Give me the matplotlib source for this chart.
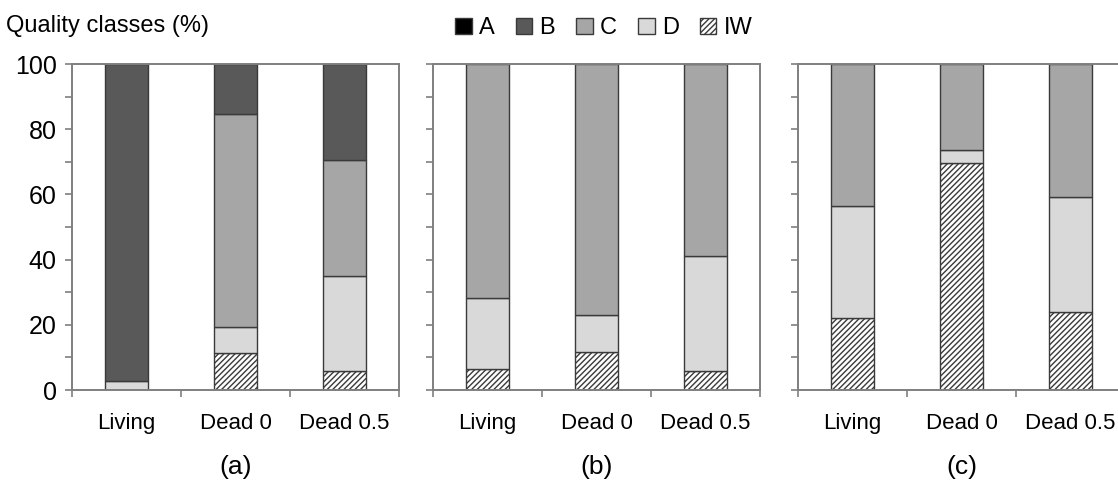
import numpy as np
import matplotlib
matplotlib.use("Agg")
import matplotlib.pyplot as plt
from matplotlib.patches import Patch

plt.rcParams['font.family'] = ['Liberation Sans', 'DejaVu Sans']
plt.rcParams['hatch.linewidth'] = 1.0

# data (percent per quality class)
categories = ["Living", "Dead 0", "Dead 0.5"]
classes = ["A", "B", "C", "D", "IW"]
panels = ["(a)", "(b)", "(c)"]

# stacking order from bottom: IW, D, C, B, A
iw_vals = [[0.0, 11.5, 5.8], [6.3, 11.7, 5.9], [22.2, 69.5, 23.8]]
d_vals = [[2.8, 7.7, 29.3], [21.8, 11.3, 35.2], [34.3, 4.0, 35.4]]
c_vals = [[0.0, 65.5, 35.5], [71.9, 77.0, 58.9], [43.5, 26.5, 40.8]]
b_vals = [[97.2, 15.3, 29.4], [0.0, 0.0, 0.0], [0.0, 0.0, 0.0]]
a_vals = [[0.0, 0.0, 0.0], [0.0, 0.0, 0.0], [0.0, 0.0, 0.0]]

colors = {"A": "#000000", "B": "#595959", "C": "#a6a6a6", "D": "#d9d9d9", "IW": "#ffffff"}
edge = "#3a3a3a"
spine_col = "#7f7f7f"

fig = plt.figure(figsize=(11.18, 4.92), dpi=100)

lefts = [0.0644, 0.3873, 0.7138]
w, h, b = 0.2925, 0.6626, 0.2073

x = np.arange(len(categories))
for k, left in enumerate(lefts):
    ax = fig.add_axes([left, b, w, h])
    bottom = np.zeros(3)
    for name, vals in [("IW", iw_vals), ("D", d_vals), ("C", c_vals), ("B", b_vals), ("A", a_vals)]:
        v = np.array(vals[k])
        mask = v > 0
        ax.bar(x[mask], v[mask], width=0.4, bottom=bottom[mask], color=colors[name],
               edgecolor=edge, linewidth=1.0, hatch="//////" if name == "IW" else None,
               zorder=2)
        bottom += v
    ax.set_xlim(-0.5, 2.5)
    ax.set_ylim(0, 100)
    ax.set_yticks(np.arange(0, 101, 20))
    ax.set_yticks(np.arange(0, 101, 10), minor=True)
    ax.set_xticks([-0.5, 0.5, 1.5, 2.5])
    ax.set_xticklabels([])
    ax.tick_params(axis="both", which="both", direction="out", length=5, width=1.2,
                   color=spine_col)
    ax.tick_params(axis="y", labelsize=18, pad=6)
    if k > 0:
        ax.set_yticklabels([])
    for s in ax.spines.values():
        s.set_color(spine_col)
        s.set_linewidth(1.4)
    for i, c in enumerate(categories):
        ax.text(i, -10.3, c, ha="center", va="center", fontsize=16)
    ax.text(0.5, -0.236, panels[k], ha="center", va="center", fontsize=19,
            transform=ax.transAxes)

fig.text(0.005, 0.947, "Quality classes (%)", fontsize=17, ha="left", va="center")

handles = [Patch(facecolor=colors[c], edgecolor=edge, hatch="//////" if c == "IW" else None)
           for c in classes]
fig.legend(handles, classes, loc="center", bbox_to_anchor=(0.54, 0.943), ncol=5,
           frameon=False, fontsize=17, handlelength=0.7, handleheight=0.7,
           handletextpad=0.3, columnspacing=0.9)

fig.savefig("out.png", dpi=100)
